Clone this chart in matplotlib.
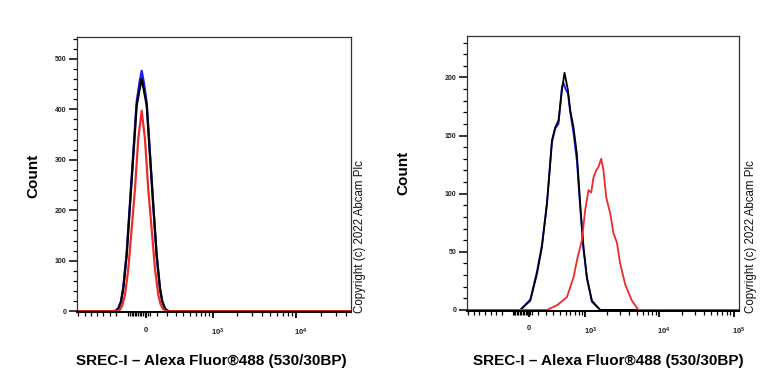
import numpy as np
import matplotlib.pyplot as plt
import matplotlib.transforms as mtransforms

plt.rcParams['font.family'] = ['Liberation Sans', 'DejaVu Sans']
plt.rcParams['mathtext.fontset'] = 'custom'
plt.rcParams['mathtext.rm'] = 'Liberation Sans:bold'
plt.rcParams['mathtext.bf'] = 'Liberation Sans:bold'

# ---- data: left panel (intensity, count) ----
left_blue_x = [-1100, -344, -310, -281, -250, -224, -188, -154, -121, -89, -61, -42, -24, 4, 34, 64, 96, 128,
               150, 178, 205, 232, 50000]
left_blue_y = [0, 0, 1, 6, 20, 48, 115, 215, 315, 415, 455, 476, 455, 412, 310, 210, 110, 44, 20, 5, 1, 0, 0]
left_black_x = [-1100, -344, -310, -281, -250, -224, -188, -154, -121, -89, -61, -42, -24, 4, 34, 64, 96, 128,
                150, 178, 205, 232, 50000]
left_black_y = [0, 0, 1, 5, 18, 45, 111, 209, 308, 407, 440, 460, 440, 407, 308, 209, 111, 45, 19, 5, 1, 0, 0]
left_red_x = [-1100, -300, -261, -235, -206, -171, -137, -105, -74, -42, -12, 18, 49, 80, 112, 135, 161, 190,
              50000]
left_red_y = [0, 0, 3, 12, 32, 84, 163, 242, 341, 397, 341, 242, 163, 84, 32, 13, 4, 0, 0]

# ---- data: right panel ----
right_blue_x = [-1200, -92, 19, 93, 151, 213, 280, 327, 378, 435, 465, 500, 547, 594, 668, 751, 840, 937, 1048,
                1231, 1603, 150000]
right_blue_y = [0, 0, 9, 33, 56, 92, 144, 156, 160, 192, 195, 190, 186, 170, 152, 128, 88, 52, 27, 7, 0, 0]
right_black_x = [-1200, -92, 19, 93, 151, 213, 280, 327, 378, 435, 481, 547, 594, 668, 751, 840, 937, 1048, 1231,
                 1603, 150000]
right_black_y = [0, 0, 8, 31, 54, 91, 146, 157, 163, 189, 204, 189, 172, 157, 134, 91, 54, 28, 8, 0, 0]
right_red_x = [-1200, 213, 353, 527, 668, 767, 889, 991, 1103, 1204, 1296, 1412, 1519, 1655, 1779, 1936, 2195,
               2432, 2703, 2995, 3498, 4304, 5280, 150000]
right_red_y = [0, 0, 4, 11, 28, 45, 60, 86, 103, 101, 114, 120, 123, 130, 120, 97, 83, 66, 58, 40, 22, 8, 0, 0]

xlabel = 'SREC-I \u2013 Alexa Fluor\u00ae488 (530/30BP)'
copyright_txt = 'Copyright (c) 2022 Abcam Plc'

BLUE = '#1a1aff'
RED = '#ee2a2a'
BLACK = '#000000'


def make_scale(a):
    def fwd(x):
        return np.arcsinh(np.asarray(x, dtype=float) / a) / np.log(10)

    def inv(d):
        return a * np.sinh(np.asarray(d, dtype=float) * np.log(10))
    return fwd, inv


def style_axis(ax, a, dmax, decades, ymax, ymajor, yminor):
    fwd, inv = make_scale(a)
    ax.set_xscale('function', functions=(fwd, inv))

    # x ticks
    majors = [0] + [10 ** p for p in decades]
    labels = ['0'] + [r'$\mathbf{10^{%d}}$' % p for p in decades]
    ax.set_xticks(majors)
    ax.set_xticklabels(labels)
    minors = list(inv(np.arange(-0.81, -0.32, 0.075)))
    minors += list(inv(np.linspace(-0.215, 0.04, 14)))
    for p in range(2, 6):
        for m in range(1, 10):
            v = m * 10 ** p
            if v not in majors:
                minors.append(v)
    ax.set_xticks(minors, minor=True)
    ax.tick_params(axis='x', which='major', length=4.5, width=1.3, pad=6, labelsize=5.5,
                   labelcolor='#222222')
    ax.tick_params(axis='x', which='minor', length=2.6, width=0.9)
    offset = mtransforms.ScaledTranslation(5 / 100, 0, ax.figure.dpi_scale_trans)
    for lab in ax.get_xticklabels()[1:]:
        lab.set_transform(lab.get_transform() + offset)

    # y ticks
    ax.set_yticks(np.arange(0, ymax, ymajor))
    ax.set_yticks(np.arange(0, ymax, yminor), minor=True)
    ax.tick_params(axis='y', which='major', length=5.8, width=1.1, pad=2, labelsize=5,
                   labelcolor='#222222')
    ax.tick_params(axis='y', which='minor', length=2.7, width=0.9)
    for lab in ax.get_yticklabels():
        lab.set_fontweight('bold')
    for lab in ax.get_xticklabels():
        lab.set_fontweight('bold')

    # limits last, so ticks outside the view do not widen it
    ax.set_xlim(float(inv(-0.825)), float(inv(dmax)))
    ax.set_ylim(-1.5 * ymax / 540, ymax)

    for s in ['top', 'right', 'left']:
        ax.spines[s].set_linewidth(0.9)
        ax.spines[s].set_color('#333333')
    ax.spines['bottom'].set_linewidth(1.4)


fig = plt.figure(figsize=(7.68, 3.84), dpi=100)

ax1 = fig.add_axes([77 / 768, 72 / 384, 274 / 768, 275 / 384])
ax1.plot(left_blue_x, left_blue_y, color=BLUE, lw=1.6)
ax1.plot(left_black_x, left_black_y, color=BLACK, lw=1.6)
ax1.plot(left_red_x, left_red_y, color=RED, lw=1.6)
style_axis(ax1, 333, 2.437, [3, 4], 543, 100, 20)

ax2 = fig.add_axes([467 / 768, 73.3 / 384, 272 / 768, 274.7 / 384])
ax2.plot(right_blue_x, right_blue_y, color=BLUE, lw=1.3)
ax2.plot(right_black_x, right_black_y, color=BLACK, lw=1.3)
ax2.plot(right_red_x, right_red_y, color=RED, lw=1.3)
style_axis(ax2, 356, 2.82, [3, 4, 5], 235.6, 50, 10)

# labels
for x, y in [(33, 176), (403, 173)]:
    fig.text(x / 768, 1 - y / 384, 'Count', rotation=90, ha='center', va='center',
             fontsize=11, fontweight='bold')
for x in [211, 608]:
    fig.text(x / 768, 1 - 361 / 384, xlabel, ha='center', va='center',
             fontsize=11, fontweight='bold')
for x in [360, 751]:
    fig.text(x / 768, 1 - 313 / 384, copyright_txt, rotation=90, ha='center', va='bottom',
             fontsize=8.3, color='#111111')

fig.savefig('out.png', dpi=100)
